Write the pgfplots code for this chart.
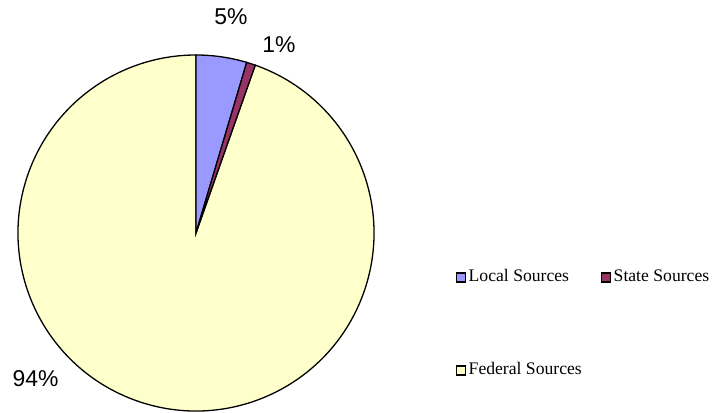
\documentclass[border=0pt]{standalone}
\usepackage{fontspec}
\setmainfont{Liberation Serif}
\newfontfamily\arial{Liberation Sans}
\usepackage{pgfplots}
\usepackage{pgfplotstable}
\pgfplotsset{compat=1.18}
\definecolor{localc}{HTML}{9999FF}
\definecolor{statec}{HTML}{993366}
\definecolor{fedc}{HTML}{FFFFCC}
\pgfplotstableread{
label value
Local 4.6
State 0.8
Federal 94.6
}\piedata
\begin{document}
\begin{tikzpicture}
\pgfplotstablegetelem{0}{value}\of\piedata \let\va\pgfplotsretval
\pgfplotstablegetelem{1}{value}\of\piedata \let\vb\pgfplotsretval
\pgfplotstablegetelem{2}{value}\of\piedata \let\vc\pgfplotsretval
\pgfmathsetmacro\aa{90}
\pgfmathsetmacro\ab{90-3.6*\va}
\pgfmathsetmacro\ac{\ab-3.6*\vb}
\pgfmathsetmacro\ad{\ac-3.6*\vc}
\begin{axis}[
  width=713bp, height=413bp, scale only axis,
  xmin=0, xmax=713, ymin=0, ymax=413,
  hide axis, clip=false,
]
\filldraw[fill=fedc, draw=black, line width=1.3bp] (axis cs:196,180) -- ++(\ac:178bp) arc[start angle=\ac, end angle=\ad, radius=178bp] -- cycle;
\filldraw[fill=localc, draw=black, line width=1.3bp] (axis cs:196,180) -- ++(\aa:178bp) arc[start angle=\aa, end angle=\ab, radius=178bp] -- cycle;
\filldraw[fill=statec, draw=black, line width=1.3bp] (axis cs:196,180) -- ++(\ab:178bp) arc[start angle=\ab, end angle=\ac, radius=178bp] -- cycle;
% percentage labels
\node[font=\arial\fontsize{23}{26}\selectfont] at (axis cs:231,396) {5\%};
\node[font=\arial\fontsize{23}{26}\selectfont] at (axis cs:279,368.5) {1\%};
\node[font=\arial\fontsize{23}{26}\selectfont] at (axis cs:35.5,34.5) {94\%};
% legend
\filldraw[fill=localc, draw=black, line width=1.6bp] (axis cs:456.5,131) rectangle (axis cs:465.5,140);
\node[anchor=base west, inner sep=0pt, font=\fontsize{17.7}{20}\selectfont] at (axis cs:468.5,131) {Local Sources};
\filldraw[fill=statec, draw=black, line width=1.6bp] (axis cs:601.5,131) rectangle (axis cs:610.5,140);
\node[anchor=base west, inner sep=0pt, font=\fontsize{17.7}{20}\selectfont] at (axis cs:613.5,131) {State Sources};
\filldraw[fill=fedc, draw=black, line width=1.6bp] (axis cs:456.5,38) rectangle (axis cs:465.5,47);
\node[anchor=base west, inner sep=0pt, font=\fontsize{17.7}{20}\selectfont] at (axis cs:468.5,38) {Federal Sources};
\end{axis}
\pgfresetboundingbox
\path (0,0) rectangle (713bp,413bp);
\end{tikzpicture}
\end{document}
